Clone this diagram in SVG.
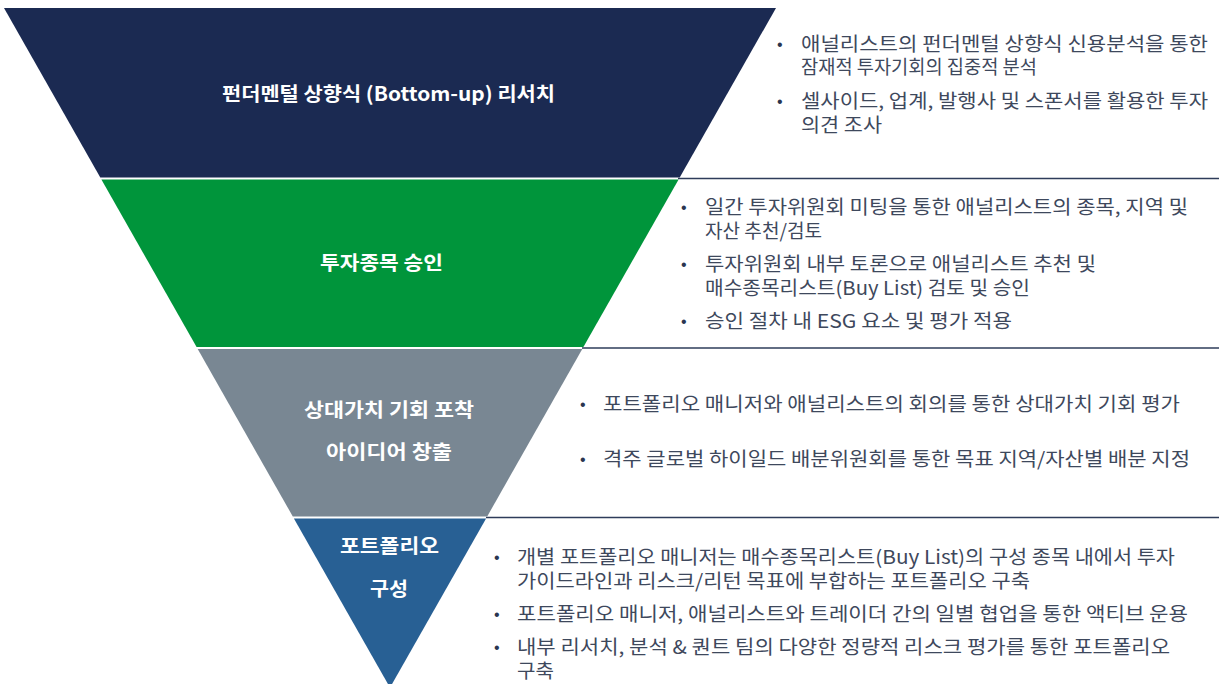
<svg xmlns="http://www.w3.org/2000/svg" width="1219" height="684" viewBox="0 0 1219 684">
<style>
.title{font-family:"Noto Sans CJK KR","Noto Sans",sans-serif;font-weight:bold;font-size:19.5px;fill:#ffffff}
.body{font-family:"Noto Sans CJK KR","Noto Sans",sans-serif;font-size:19px;fill:#3e485c}
.bul{font-family:"Liberation Sans",sans-serif;font-size:16px;fill:#2a3550}
.sep{stroke:#2e3c5a;stroke-width:1.6;fill:none}
</style>
<rect width="1219" height="684" fill="#ffffff"/>
<g id="connectors">
<line class="sep" x1="678" y1="178.5" x2="1219" y2="178.5"/>
<line class="sep" x1="582" y1="348" x2="1219" y2="348"/>
<line class="sep" x1="486" y1="517.5" x2="1219" y2="517.5"/>
</g>
<g id="band1">
<polygon points="4,8 776,8 679.7,177.5 100.3,177.5" fill="#1b2a52"/>
<text class="title" x="222" y="101" textLength="333" lengthAdjust="spacingAndGlyphs">펀더멘털 상향식 (Bottom-up) 리서치</text>
</g>
<g id="band2">
<polygon points="101.4,179.5 678.6,179.5 583.4,347 196.6,347" fill="#00953b"/>
<text class="title" x="320" y="270" textLength="123" lengthAdjust="spacingAndGlyphs">투자종목 승인</text>
</g>
<g id="band3">
<polygon points="197.7,349 582.3,349 487.2,516.5 292.8,516.5" fill="#798793"/>
<text class="title" x="304" y="417" textLength="170" lengthAdjust="spacingAndGlyphs">상대가치 기회 포착</text>
<text class="title" x="326" y="459" textLength="126" lengthAdjust="spacingAndGlyphs">아이디어 창출</text>
</g>
<g id="band4">
<polygon points="293.9,518.5 486.1,518.5 390,687.6" fill="#286094"/>
<text class="title" x="340" y="553" textLength="99" lengthAdjust="spacingAndGlyphs">포트폴리오</text>
<text class="title" x="370" y="596" textLength="38" lengthAdjust="spacingAndGlyphs">구성</text>
</g>
<g id="text1">
<text class="bul" x="777" y="50">•</text>
<text class="body" x="801" y="51" textLength="407" lengthAdjust="spacingAndGlyphs">애널리스트의 펀더멘털 상향식 신용분석을 통한</text>
<text class="body" x="801" y="74" textLength="236" lengthAdjust="spacingAndGlyphs">잠재적 투자기회의 집중적 분석</text>
<text class="bul" x="777" y="107">•</text>
<text class="body" x="801" y="108" textLength="407" lengthAdjust="spacingAndGlyphs">셀사이드, 업계, 발행사 및 스폰서를 활용한 투자</text>
<text class="body" x="801" y="132" textLength="81" lengthAdjust="spacingAndGlyphs">의견 조사</text>
</g>
<g id="text2">
<text class="bul" x="681" y="213">•</text>
<text class="body" x="705" y="214" textLength="483" lengthAdjust="spacingAndGlyphs">일간 투자위원회 미팅을 통한 애널리스트의 종목, 지역 및</text>
<text class="body" x="705" y="238" textLength="117" lengthAdjust="spacingAndGlyphs">자산 추천/검토</text>
<text class="bul" x="681" y="270">•</text>
<text class="body" x="705" y="271" textLength="391" lengthAdjust="spacingAndGlyphs">투자위원회 내부 토론으로 애널리스트 추천 및</text>
<text class="body" x="705" y="295" textLength="325" lengthAdjust="spacingAndGlyphs">매수종목리스트(Buy List) 검토 및 승인</text>
<text class="bul" x="681" y="327">•</text>
<text class="body" x="705" y="328" textLength="307" lengthAdjust="spacingAndGlyphs">승인 절차 내 ESG 요소 및 평가 적용</text>
</g>
<g id="text3">
<text class="bul" x="580" y="410">•</text>
<text class="body" x="603" y="411" textLength="577" lengthAdjust="spacingAndGlyphs">포트폴리오 매니저와 애널리스트의 회의를 통한 상대가치 기회 평가</text>
<text class="bul" x="580" y="465">•</text>
<text class="body" x="603" y="466" textLength="587" lengthAdjust="spacingAndGlyphs">격주 글로벌 하이일드 배분위원회를 통한 목표 지역/자산별 배분 지정</text>
</g>
<g id="text4">
<text class="bul" x="494" y="563">•</text>
<text class="body" x="517" y="564" textLength="658" lengthAdjust="spacingAndGlyphs">개별 포트폴리오 매니저는 매수종목리스트(Buy List)의 구성 종목 내에서 투자</text>
<text class="body" x="517" y="588" textLength="513" lengthAdjust="spacingAndGlyphs">가이드라인과 리스크/리턴 목표에 부합하는 포트폴리오 구축</text>
<text class="bul" x="494" y="620">•</text>
<text class="body" x="517" y="621" textLength="671" lengthAdjust="spacingAndGlyphs">포트폴리오 매니저, 애널리스트와 트레이더 간의 일별 협업을 통한 액티브 운용</text>
<text class="bul" x="494" y="653">•</text>
<text class="body" x="517" y="654" textLength="653" lengthAdjust="spacingAndGlyphs">내부 리서치, 분석 &amp; 퀀트 팀의 다양한 정량적 리스크 평가를 통한 포트폴리오</text>
<text class="body" x="517" y="678" textLength="37" lengthAdjust="spacingAndGlyphs">구축</text>
</g>
</svg>
